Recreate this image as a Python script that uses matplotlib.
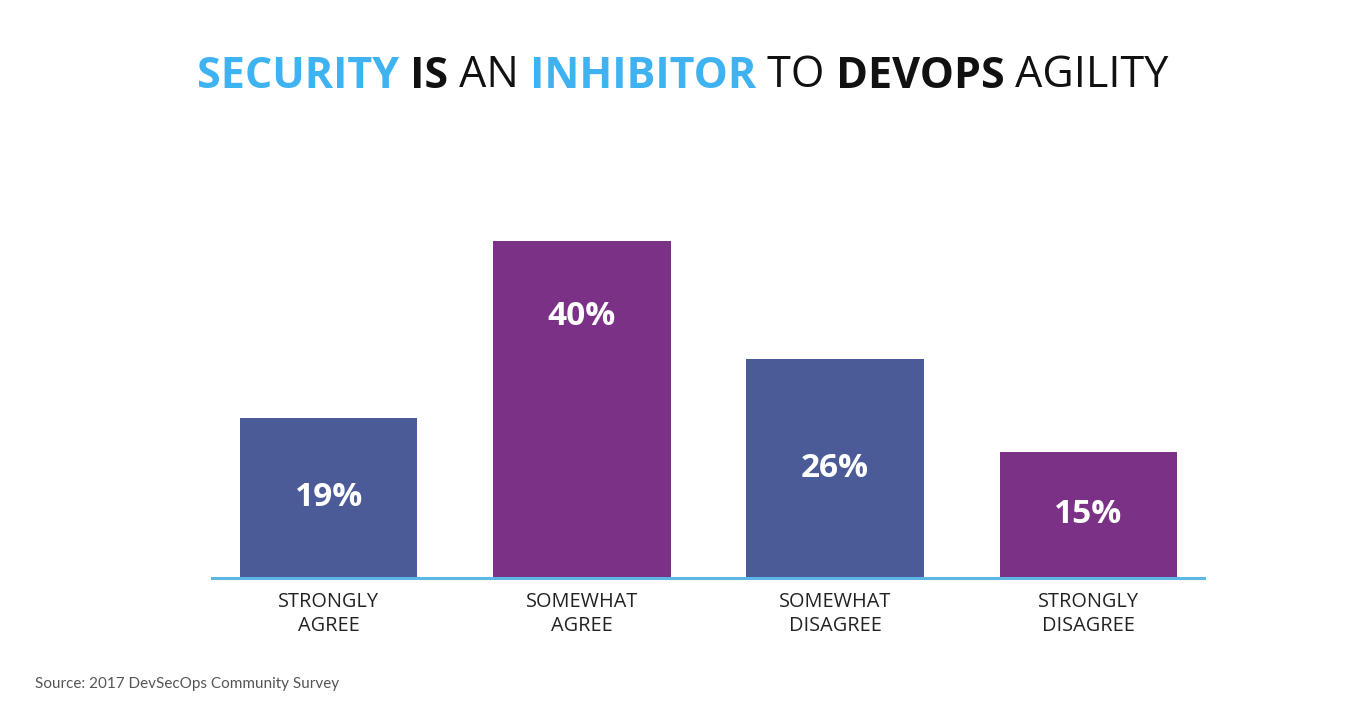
import matplotlib
matplotlib.use("Agg")
import matplotlib.pyplot as plt

categories = ["STRONGLY\nAGREE", "SOMEWHAT\nAGREE", "SOMEWHAT\nDISAGREE", "STRONGLY\nDISAGREE"]
values = [19, 40, 26, 15]
labels = ["19%", "40%", "26%", "15%"]
colors = ["#4b5b98", "#7b3185", "#4b5b98", "#7b3185"]

title_parts = [("SECURITY", "bold", "#3fb2f2"), (" IS", "bold", "#111111"),
               (" AN", "normal", "#111111"), (" INHIBITOR", "bold", "#3fb2f2"),
               (" TO", "normal", "#111111"), (" DEVOPS", "bold", "#111111"),
               (" AGILITY", "normal", "#111111")]
source = "Source: 2017 DevSecOps Community Survey"

FONT = ["Open Sans", "DejaVu Sans"]
SRC_FONT = ["Lato", "DejaVu Sans"]
W, H = 1370, 710
fig = plt.figure(figsize=(W / 100, H / 100), dpi=100)
fig.patch.set_facecolor("white")

ax = fig.add_axes([212 / W, 1 - 578 / H, 992 / W, 337 / H])
x = list(range(len(values)))
ax.bar(x, values, width=0.70, color=colors, zorder=2, clip_on=False)
ax.set_xlim(-0.462, 3.458)
ax.set_ylim(0, 40)
for s in ["top", "right", "left"]:
    ax.spines[s].set_visible(False)
ax.spines["bottom"].set_color("#5cb6e6")
ax.spines["bottom"].set_linewidth(2.2)
ax.spines["bottom"].set_zorder(3)
ax.set_yticks([])
ax.set_xticks(x)
ax.set_xticklabels(categories, fontsize=14.3, family=FONT, color="#222222", linespacing=1.25)
ax.tick_params(axis="x", length=0, pad=10)

for xi, v, lab in zip(x, values, labels):
    ly = v / 2 if v < 30 else v - 9
    ax.text(xi, ly, lab, ha="center", va="center", color="white",
            fontsize=24, fontweight="bold", family=FONT, zorder=4)

# Title with mixed styles
renderer = fig.canvas.get_renderer()
texts = []
for txt, weight, col in title_parts:
    t = fig.text(0, 1 - 76 / H, txt, fontsize=31, fontweight=weight, color=col,
                 family=FONT, va="center", ha="left")
    texts.append(t)
widths = [t.get_window_extent(renderer=renderer).width for t in texts]
total = sum(widths)
cur = 683 - total / 2
for t, w in zip(texts, widths):
    t.set_x(cur / W)
    cur += w

fig.text(35 / W, 1 - 684 / H, source, fontsize=11, color="#555555", family=SRC_FONT,
         va="center", ha="left")

fig.savefig("out.png", dpi=100, facecolor="white")
